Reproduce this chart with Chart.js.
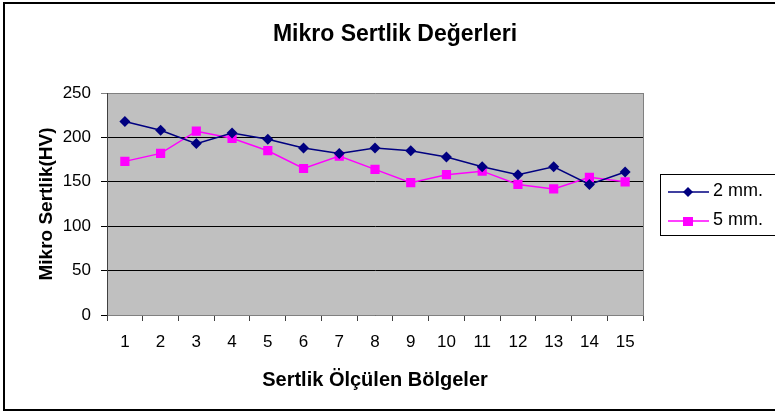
<!DOCTYPE html>
<html>
<head>
<meta charset="utf-8">
<script src="https://cdn.jsdelivr.net/npm/chart.js@4"></script>
<style>
html,body{margin:0;padding:0;background:#fff}
#wrap{width:775px;height:412px;position:relative}
</style>
</head>
<body>
<div id="wrap"><canvas id="myChart" width="775" height="412"></canvas></div>
<script>
// olcum noktalari ve sertlik degerleri
const bolgeler=['1','2','3','4','5','6','7','8','9','10','11','12','13','14','15']
const seri2mm=[218,208,193,205,198,188,182,188,185,178,167,158,167,147,161]
const seri5mm=[173,182,207,199,185,165,179,164,149,158,162,147,142,155,150]
const yTicks=[0,50,100,150,200,250]
const seriAdlari=['2 mm.','5 mm.']

const FONT='"Liberation Sans", Arial, sans-serif'

// gri cizim alani, cerceve, baslik ve legend
const cerceve={
  id:'cerceve',
  beforeDraw(chart){
    const c=chart.ctx, a=chart.chartArea
    c.save()
    c.fillStyle='#fff'
    c.fillRect(0,0,chart.width,chart.height)
    c.fillStyle='#C0C0C0'
    c.fillRect(a.left,a.top,a.right-a.left,a.bottom-a.top)
    c.restore()
  },
  afterDraw(chart){
    const c=chart.ctx, a=chart.chartArea
    c.save()
    // sag kenar
    c.strokeStyle='#808080'
    c.lineWidth=1
    c.beginPath()
    c.moveTo(Math.round(a.right)+0.5,a.top)
    c.lineTo(Math.round(a.right)+0.5,a.bottom)
    c.stroke()
    // dis cerceve
    c.strokeStyle='#000'
    c.lineWidth=2
    c.strokeRect(4,3,772,407)
    // baslik
    c.fillStyle='#000'
    c.font='bold 23px '+FONT
    c.textAlign='center'
    c.textBaseline='middle'
    c.fillText('Mikro Sertlik Değerleri',395,35)
    // legend kutusu
    c.lineWidth=1
    c.strokeStyle='#000'
    c.strokeRect(660.5,174.5,120,61)
    const renk=['#000080','#FF00FF']
    const ly=[192,221]
    for(let i=0;i<2;i++){
      c.strokeStyle=renk[i]
      c.lineWidth=1.5
      c.beginPath()
      c.moveTo(668,ly[i])
      c.lineTo(709,ly[i])
      c.stroke()
      c.fillStyle=renk[i]
      c.beginPath()
      if(i==0){
        c.moveTo(688,ly[i]-5);c.lineTo(693,ly[i]);c.lineTo(688,ly[i]+5);c.lineTo(683,ly[i])
      }else{
        c.rect(683,ly[i]-4,10,9)
      }
      c.fill()
      c.fillStyle='#000'
      c.font='18px '+FONT
      c.textAlign='left'
      c.fillText(seriAdlari[i],713,ly[i]-1)
    }
    c.restore()
  }
}

const ctx=document.getElementById('myChart')
new Chart(ctx,{
  type:'line',
  data:{
    labels:bolgeler,
    datasets:[{
      label:seriAdlari[0],
      data:seri2mm,
      borderColor:'#000080',
      backgroundColor:'#000080',
      borderWidth:1.5,
      pointStyle:'rectRot',
      pointRadius:5.5,
      pointBorderWidth:0,
      tension:0
    },{
      label:seriAdlari[1],
      data:seri5mm,
      borderColor:'#FF00FF',
      backgroundColor:'#FF00FF',
      borderWidth:1.5,
      pointStyle:'rect',
      pointRadius:6.5,
      pointBorderWidth:0,
      tension:0
    }]
  },
  options:{
    responsive:false,
    animation:false,
    layout:{padding:{left:0,top:93,right:132,bottom:0}},
    plugins:{legend:{display:false},title:{display:false},tooltip:{enabled:false}},
    scales:{
      x:{
        offset:true,
        afterFit(s){s.height=97},
        grid:{offset:true,drawOnChartArea:false,tickLength:6,color:'#404040'},
        border:{color:'#808080',width:1},
        ticks:{color:'#000',font:{family:FONT,size:17},padding:11,maxRotation:0},
        title:{display:true,text:'Sertlik Ölçülen Bölgeler',color:'#000',font:{family:FONT,size:20,weight:'bold'},padding:{top:0,bottom:20}}
      },
      y:{
        min:0,max:250,
        afterFit(s){s.width=107},
        afterBuildTicks(s){s.ticks=yTicks.map(v=>({value:v}))},
        grid:{
          tickLength:6,
          color:c=>c.tick&&c.tick.value===250?'#808080':'#000'
        },
        border:{color:'#404040',width:1},
        ticks:{color:'#000',font:{family:FONT,size:17},padding:10},
        title:{display:true,text:'Mikro Sertlik(HV)',color:'#000',font:{family:FONT,size:19,weight:'bold'},padding:{top:35,bottom:0}}
      }
    }
  },
  plugins:[cerceve]
})
</script>
</body>
</html>
